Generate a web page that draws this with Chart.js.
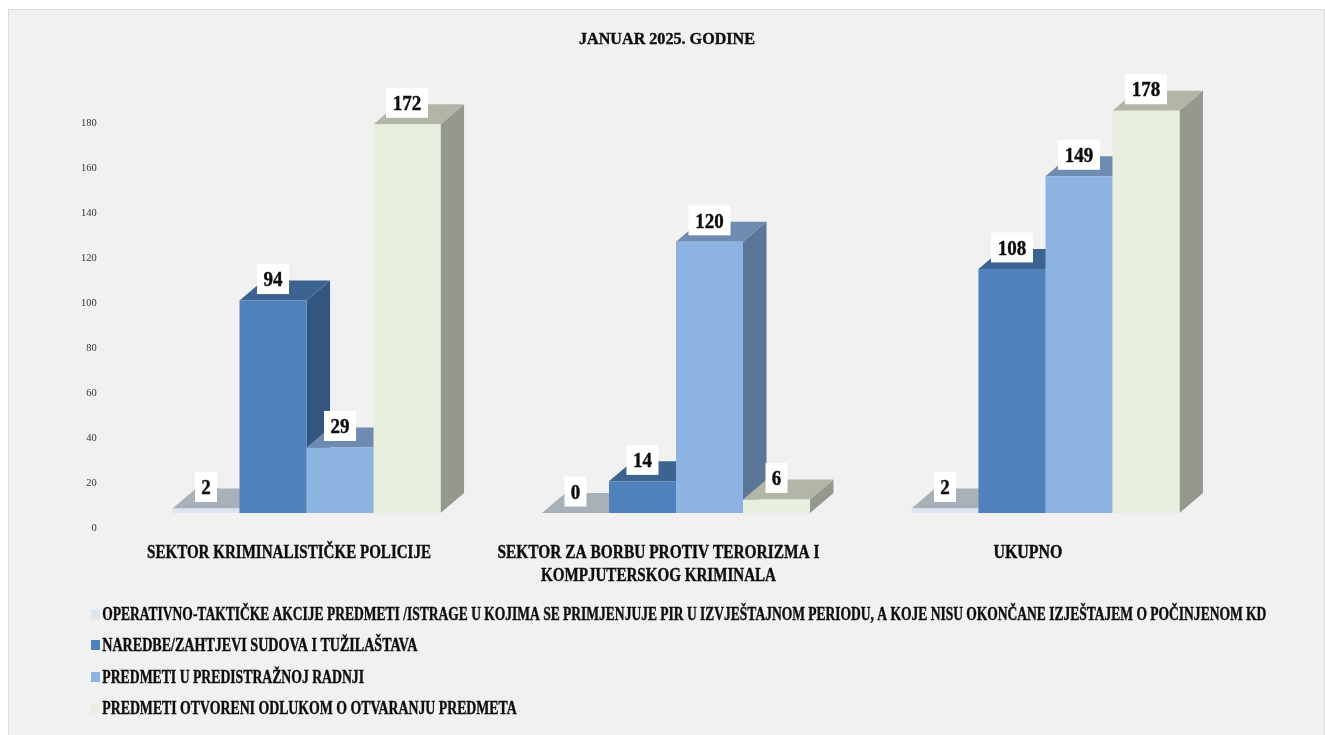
<!DOCTYPE html>
<html>
<head>
<meta charset="utf-8">
<title>Januar 2025</title>
<script src="https://cdn.jsdelivr.net/npm/chart.js@4/dist/chart.umd.min.js"></script>
<style>
  html, body { margin: 0; padding: 0; background: #fff; overflow: hidden; }
  #panel { position: absolute; left: 8px; top: 9px; width: 1315px; height: 726px; background: #f1f1f1;
           border-left: 1px solid #dcdcdc; border-top: 1px solid #dcdcdc; border-right: 1px solid #dcdcdc; }
  #chart { position: absolute; left: 0; top: 0; }
</style>
</head>
<body>
<div id="panel"></div>
<canvas id="chart" width="1325" height="735"></canvas>
<script>
const chart_title = 'JANUAR 2025. GODINE';
const categories = [
  ['SEKTOR KRIMINALISTIČKE POLICIJE'],
  ['SEKTOR ZA BORBU PROTIV TERORIZMA I', 'KOMPJUTERSKOG KRIMINALA'],
  ['UKUPNO']
];
const series_names = [
  'OPERATIVNO-TAKTIČKE AKCIJE PREDMETI /ISTRAGE U KOJIMA SE PRIMJENJUJE PIR U IZVJEŠTAJNOM PERIODU, A KOJE NISU OKONČANE IZJEŠTAJEM O POČINJENOM KD',
  'NAREDBE/ZAHTJEVI SUDOVA I TUŽILAŠTAVA',
  'PREDMETI U PREDISTRAŽNOJ RADNJI',
  'PREDMETI OTVORENI ODLUKOM O OTVARANJU PREDMETA'
];
const operativne = [2, 0, 2];
const naredbe = [94, 14, 108];
const predistrazne = [29, 120, 149];
const otvoreni = [172, 6, 178];
const series_values = [operativne, naredbe, predistrazne, otvoreni];

const front_colors = ['#dce6f2', '#4f81bd', '#8db3e2', '#e9efdf'];
const top_colors = ['#a8b1ba', '#3d6491', '#6e8cb2', '#b2b6a6'];
const side_colors = ['#8f98a1', '#325680', '#5b7697', '#95988c'];

// widths the texts take in the original, the font there is much narrower
const category_widths = [[284], [322, 235], [69]];
const legend_widths = [1164, 315, 261.7, 414.4];
const legend_rows_y = [614.5, 645, 677, 708.5];

const serif = '"Liberation Serif", serif';
const text_color = '#0d0d0d';
const depth_x = 23.5;
const depth_y = 20;

function squeezed(ctx, text, x, y, width, align){
  ctx.save();
  ctx.translate(x, y);
  ctx.scale(width / ctx.measureText(text).width, 1);
  ctx.textAlign = align;
  ctx.textBaseline = 'middle';
  ctx.lineWidth = 0.4;
  ctx.strokeStyle = text_color;
  ctx.fillStyle = text_color;
  ctx.fillText(text, 0, 0);
  ctx.strokeText(text, 0, 0);
  ctx.restore();
}

const bars_3d = {
  id: 'bars_3d',
  beforeDatasetsDraw(chart){
    const ctx = chart.ctx;
    chart.data.datasets.forEach(function(ds, i){
      chart.getDatasetMeta(i).data.forEach(function(bar){
        const half = bar.width / 2;
        const l = bar.x - half, r = bar.x + half;
        ctx.fillStyle = side_colors[i];
        ctx.beginPath();
        ctx.moveTo(r, bar.y);
        ctx.lineTo(r + depth_x, bar.y - depth_y);
        ctx.lineTo(r + depth_x, bar.base - depth_y);
        ctx.lineTo(r, bar.base);
        ctx.closePath();
        ctx.fill();
        ctx.fillStyle = top_colors[i];
        ctx.beginPath();
        ctx.moveTo(l, bar.y);
        ctx.lineTo(l + depth_x, bar.y - depth_y);
        ctx.lineTo(r + depth_x, bar.y - depth_y);
        ctx.lineTo(r, bar.y);
        ctx.closePath();
        ctx.fill();
        bar.draw(ctx);
      });
    });
    return false;
  }
};

const value_labels = {
  id: 'value_labels',
  afterDraw(chart){
    const ctx = chart.ctx;
    ctx.save();
    ctx.font = 'bold 20px ' + serif;
    chart.data.datasets.forEach(function(ds, i){
      chart.getDatasetMeta(i).data.forEach(function(bar, j){
        const txt = String(ds.data[j]);
        const w = txt.length * 10 + 12;
        const cy = bar.y - 21.5;
        ctx.fillStyle = '#fff';
        ctx.fillRect(bar.x - w / 2, cy - 15, w, 30);
        squeezed(ctx, txt, bar.x, cy + 2, ctx.measureText(txt).width * 0.95, 'center');
      });
    });
    ctx.restore();
  }
};

const text_blocks = {
  id: 'text_blocks',
  afterDraw(chart){
    const ctx = chart.ctx, xs = chart.scales.x;
    ctx.save();
    ctx.font = 'bold 17.5px ' + serif;
    squeezed(ctx, chart_title, 667, 39, 176, 'center');

    ctx.font = 'bold 19px ' + serif;
    categories.forEach(function(lines, i){
      lines.forEach(function(line, k){
        squeezed(ctx, line, xs.getPixelForTick(i) - 17.5, 553 + k * 23, category_widths[i][k], 'center');
      });
    });

    ctx.font = 'bold 18px ' + serif;
    series_names.forEach(function(name, i){
      ctx.fillStyle = front_colors[i];
      ctx.fillRect(91, legend_rows_y[i] - 5, 9, 10);
      squeezed(ctx, name, 102.3, legend_rows_y[i] + 1, legend_widths[i], 'left');
    });
    ctx.restore();
  }
};

new Chart(document.getElementById('chart'), {
  type: 'bar',
  data: {
    labels: categories,
    datasets: series_values.map((vals, i) => ({
      label: series_names[i],
      data: vals,
      yAxisID: 'bars',
      backgroundColor: front_colors[i],
      borderWidth: 0,
      barPercentage: 1,
      categoryPercentage: 0.7255
    }))
  },
  plugins: [bars_3d, value_labels, text_blocks],
  options: {
    responsive: false,
    animation: false,
    layout: { padding: { left: 9, right: 94.8, top: 78, bottom: 207 } },
    scales: {
      x: {
        ticks: { display: false },
        grid: { display: false, drawTicks: false },
        border: { display: false }
      },
      // visible axis sits lower than the floor of the bars, like the 3d original
      y: {
        min: 0,
        max: 200,
        afterFit: function(scale){ scale.width = 112.8; },
        afterTickToLabelConversion: function(scale){
          scale.ticks = scale.ticks.filter(t => t.value <= 180);
        },
        ticks: { stepSize: 20, padding: 25, color: '#333', font: { family: serif, size: 10.5 } },
        grid: { display: false, drawTicks: false },
        border: { display: false }
      },
      bars: {
        display: false,
        min: -6.64,
        max: 192.5
      }
    },
    plugins: {
      legend: { display: false },
      tooltip: { enabled: false },
      title: { display: false, text: chart_title }
    }
  }
});
</script>
</body>
</html>
